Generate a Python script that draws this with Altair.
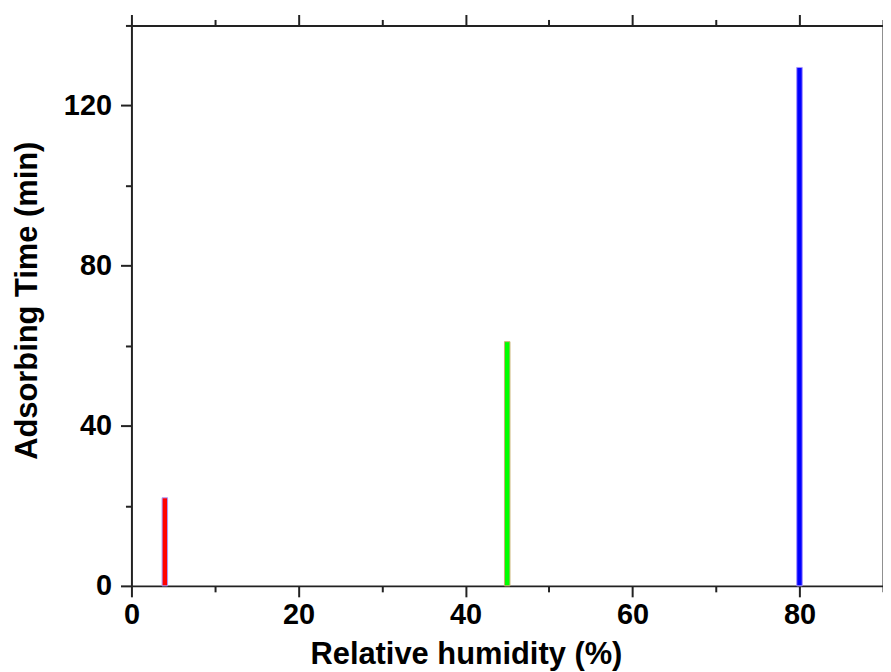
import altair as alt
import pandas as pd

humidity = [4, 45, 80]
adsorbing_time = [22, 61, 129.5]
fill_colors = ["#ff0000", "#00ff00", "#0000ff"]
edge_colors = ["#a898ff", "#c8b070", "#a890ff"]

x_ticks = [0, 10, 20, 30, 40, 50, 60, 70, 80, 90]
y_ticks = [0, 20, 40, 60, 80, 100, 120, 140]

df = pd.DataFrame({
    "rh": humidity,
    "t": adsorbing_time,
    "fill": fill_colors,
    "edge": edge_colors,
})

FONT = "Liberation Sans"
xscale = alt.Scale(domain=[0, 90], nice=False, zero=False, padding=0)
yscale = alt.Scale(domain=[0, 140], nice=False, padding=0)

x_tick_size = {"condition": {"test": "datum.value % 20 === 0", "value": 11}, "value": 6}
y_tick_size = {"condition": {"test": "datum.value % 40 === 0", "value": 11}, "value": 6}

line_style = dict(
    domainColor="#222222", domainWidth=2, tickColor="#222222", tickWidth=2, grid=False,
)
text_style = dict(
    labelFont=FONT, labelFontSize=29, labelFontWeight="bold", labelColor="#000000",
    labelOverlap=False, labelFlush=False, labelBound=False,
    titleFont=FONT, titleFontSize=31, titleFontWeight="bold", titleColor="#000000",
)

bars = alt.Chart(df).mark_bar(size=5.5, strokeWidth=1).encode(
    x=alt.X("rh:Q", scale=xscale, axis=alt.Axis(
        orient="bottom", values=x_ticks, tickSize=x_tick_size,
        labelExpr="datum.value % 20 === 0 ? datum.label : ''",
        labelPadding=4, title="Relative humidity (%)",
        titleX=336, titleY=78, titleBaseline="alphabetic", **line_style, **text_style)),
    y=alt.Y("t:Q", scale=yscale, axis=alt.Axis(
        orient="left", values=y_ticks, tickSize=y_tick_size,
        labelExpr="datum.value % 40 === 0 ? datum.label : ''",
        labelPadding=9, title="Adsorbing Time (min)",
        titleX=-104, titleY=276, titleBaseline="middle", **line_style, **text_style)),
    fill=alt.Fill("fill:N", scale=None),
    stroke=alt.Stroke("edge:N", scale=None),
)

frame = alt.Chart(df).mark_point(opacity=0).encode(
    x=alt.X("rh:Q", scale=xscale, axis=alt.Axis(
        orient="top", values=x_ticks, tickSize=x_tick_size, labels=False,
        title=None, **line_style)),
    y=alt.Y("t:Q", scale=yscale, axis=alt.Axis(
        orient="right", values=y_ticks, tickSize=y_tick_size, labels=False,
        title=None, **line_style)),
)

chart = alt.layer(bars, frame).resolve_axis(x="independent", y="independent").properties(
    width=755, height=563,
    autosize=alt.AutoSizeParams(type="none"),
    padding={"left": 124, "top": 16, "right": 0, "bottom": 84},
    background="white",
).configure_view(stroke=None)

chart.save("out.html", embed_options={"renderer": "svg", "actions": False})
